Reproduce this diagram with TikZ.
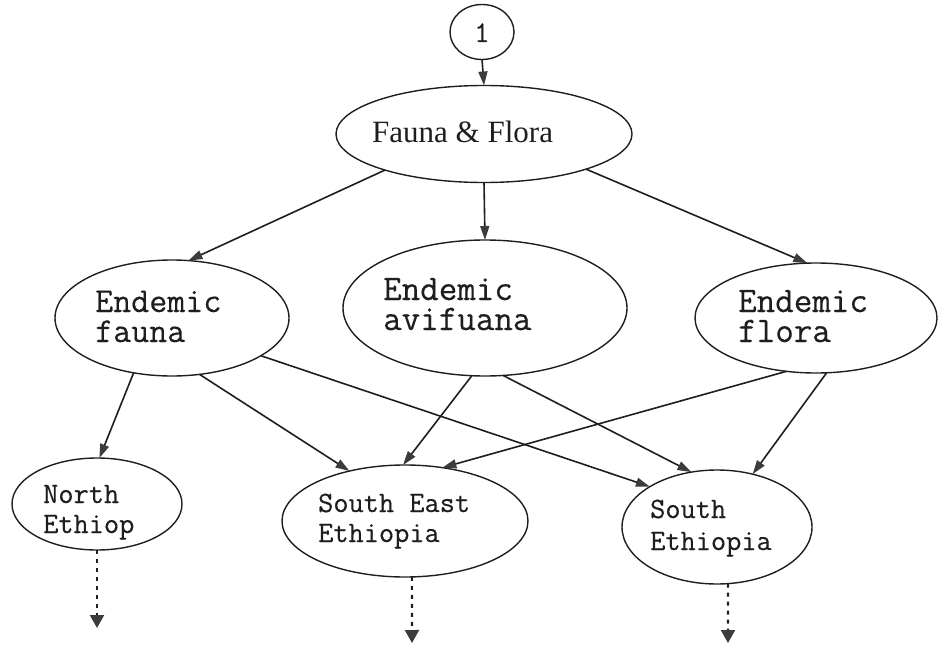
\documentclass[tikz,border=0pt]{standalone}
\usepackage{fontspec}
\setmainfont{Liberation Serif}
\setmonofont{Latin Modern Mono}[FakeBold=0.4]
\usetikzlibrary{shapes.geometric,arrows.meta}

\definecolor{ink}{HTML}{1E1E1E}
\definecolor{tipgray}{HTML}{3C3C3C}

% two stacked lines with a fixed baseline distance; the box keeps the
% baseline of its first line
\newcommand\pairtext[3]{\vtop{\baselineskip=#1\lineskip=0pt
  \lineskiplimit=-1000pt\hbox{#2}\hbox{#3}}}

\begin{document}
\begin{tikzpicture}[x=1pt,y=-1pt,
  oval/.style={draw=ink, ellipse, line width=1.4pt, inner sep=0pt, outer sep=0pt},
  lbl/.style={anchor=base west, inner sep=0pt, text=ink,
              font=\ttfamily\fontsize{#1}{#1}\selectfont},
  link/.style={draw=ink, line width=1.6pt,
               -{Triangle[length=14pt,width=9pt,color=tipgray]}},
  more/.style={draw=ink, line width=2.2pt, dash pattern=on 4pt off 5pt,
               -{Triangle[length=13pt,width=14pt,color=tipgray]}}]

\useasboundingbox (0,0) rectangle (942,647);

% ovals
\node[oval, minimum width=64pt,  minimum height=55pt]  (one)   at (482,32)  {};
\node[oval, minimum width=296pt, minimum height=97pt]  (ff)    at (484,134) {};
\node[oval, minimum width=234pt, minimum height=116pt] (efa)   at (172,318) {};
\node[oval, minimum width=284pt, minimum height=136pt] (eav)   at (485,308) {};
\node[oval, minimum width=242pt, minimum height=110pt] (efl)   at (816,318) {};
\node[oval, minimum width=170pt, minimum height=92pt]  (north) at (97,504)  {};
\node[oval, minimum width=246pt, minimum height=112pt] (se)    at (405,521) {};
\node[oval, minimum width=190pt, minimum height=114pt] (south) at (717,527) {};

% texts
\node[lbl=30] (one-t) at (474,42) {1};
\node[anchor=base west, inner sep=0pt, text=ink,
      font=\rmfamily\fontsize{31}{31}\selectfont] (ff-t) at (372,143) {Fauna \& Flora};
\node[lbl=35]   (efa-t)   at (95,312)  {\pairtext{30pt}{Endemic}{fauna}};
\node[lbl=36]   (eav-t)   at (383,300) {\pairtext{30pt}{Endemic}{avifuana}};
\node[lbl=36]   (efl-t)   at (738,312) {\pairtext{30pt}{Endemic}{flora}};
\node[lbl=29.5] (north-t) at (43,503)  {\pairtext{30pt}{North}{Ethiop}};
\node[lbl=29.5] (se-t)    at (318,512) {\pairtext{30pt}{South East}{Ethiopia}};
\node[lbl=29.5] (south-t) at (650,518) {\pairtext{32pt}{South}{Ethiopia}};

% free ends of the continuation arrows
\coordinate (north-c) at (97,628);
\coordinate (se-c)    at (412,643);
\coordinate (south-c) at (728,643);

% connectors
\draw[link] (one.south) -- (ff.north);
\draw[link] (ff.-160) -- (efa.74);
\draw[link] (ff.-90)  -- (eav.90);
\draw[link] (ff.-19)  -- (efl.99);

\draw[link] (efa.-125) -- (north.87);
\draw[link] (efa.-64)  -- (se.138);
\draw[link] (efa.-23)  -- (south.149);

\draw[link] (eav.-101) -- (se.92);
\draw[link] (eav.-75)  -- (south.115);

\draw[link] (efl.-119) -- (se.55);
\draw[link] (efl.-79)  -- (south.56);

\draw[more] (north.-90) -- (north-c);
\draw[more] (se.-83)    -- (se-c);
\draw[more] (south.-79) -- (south-c);
\end{tikzpicture}
\end{document}
